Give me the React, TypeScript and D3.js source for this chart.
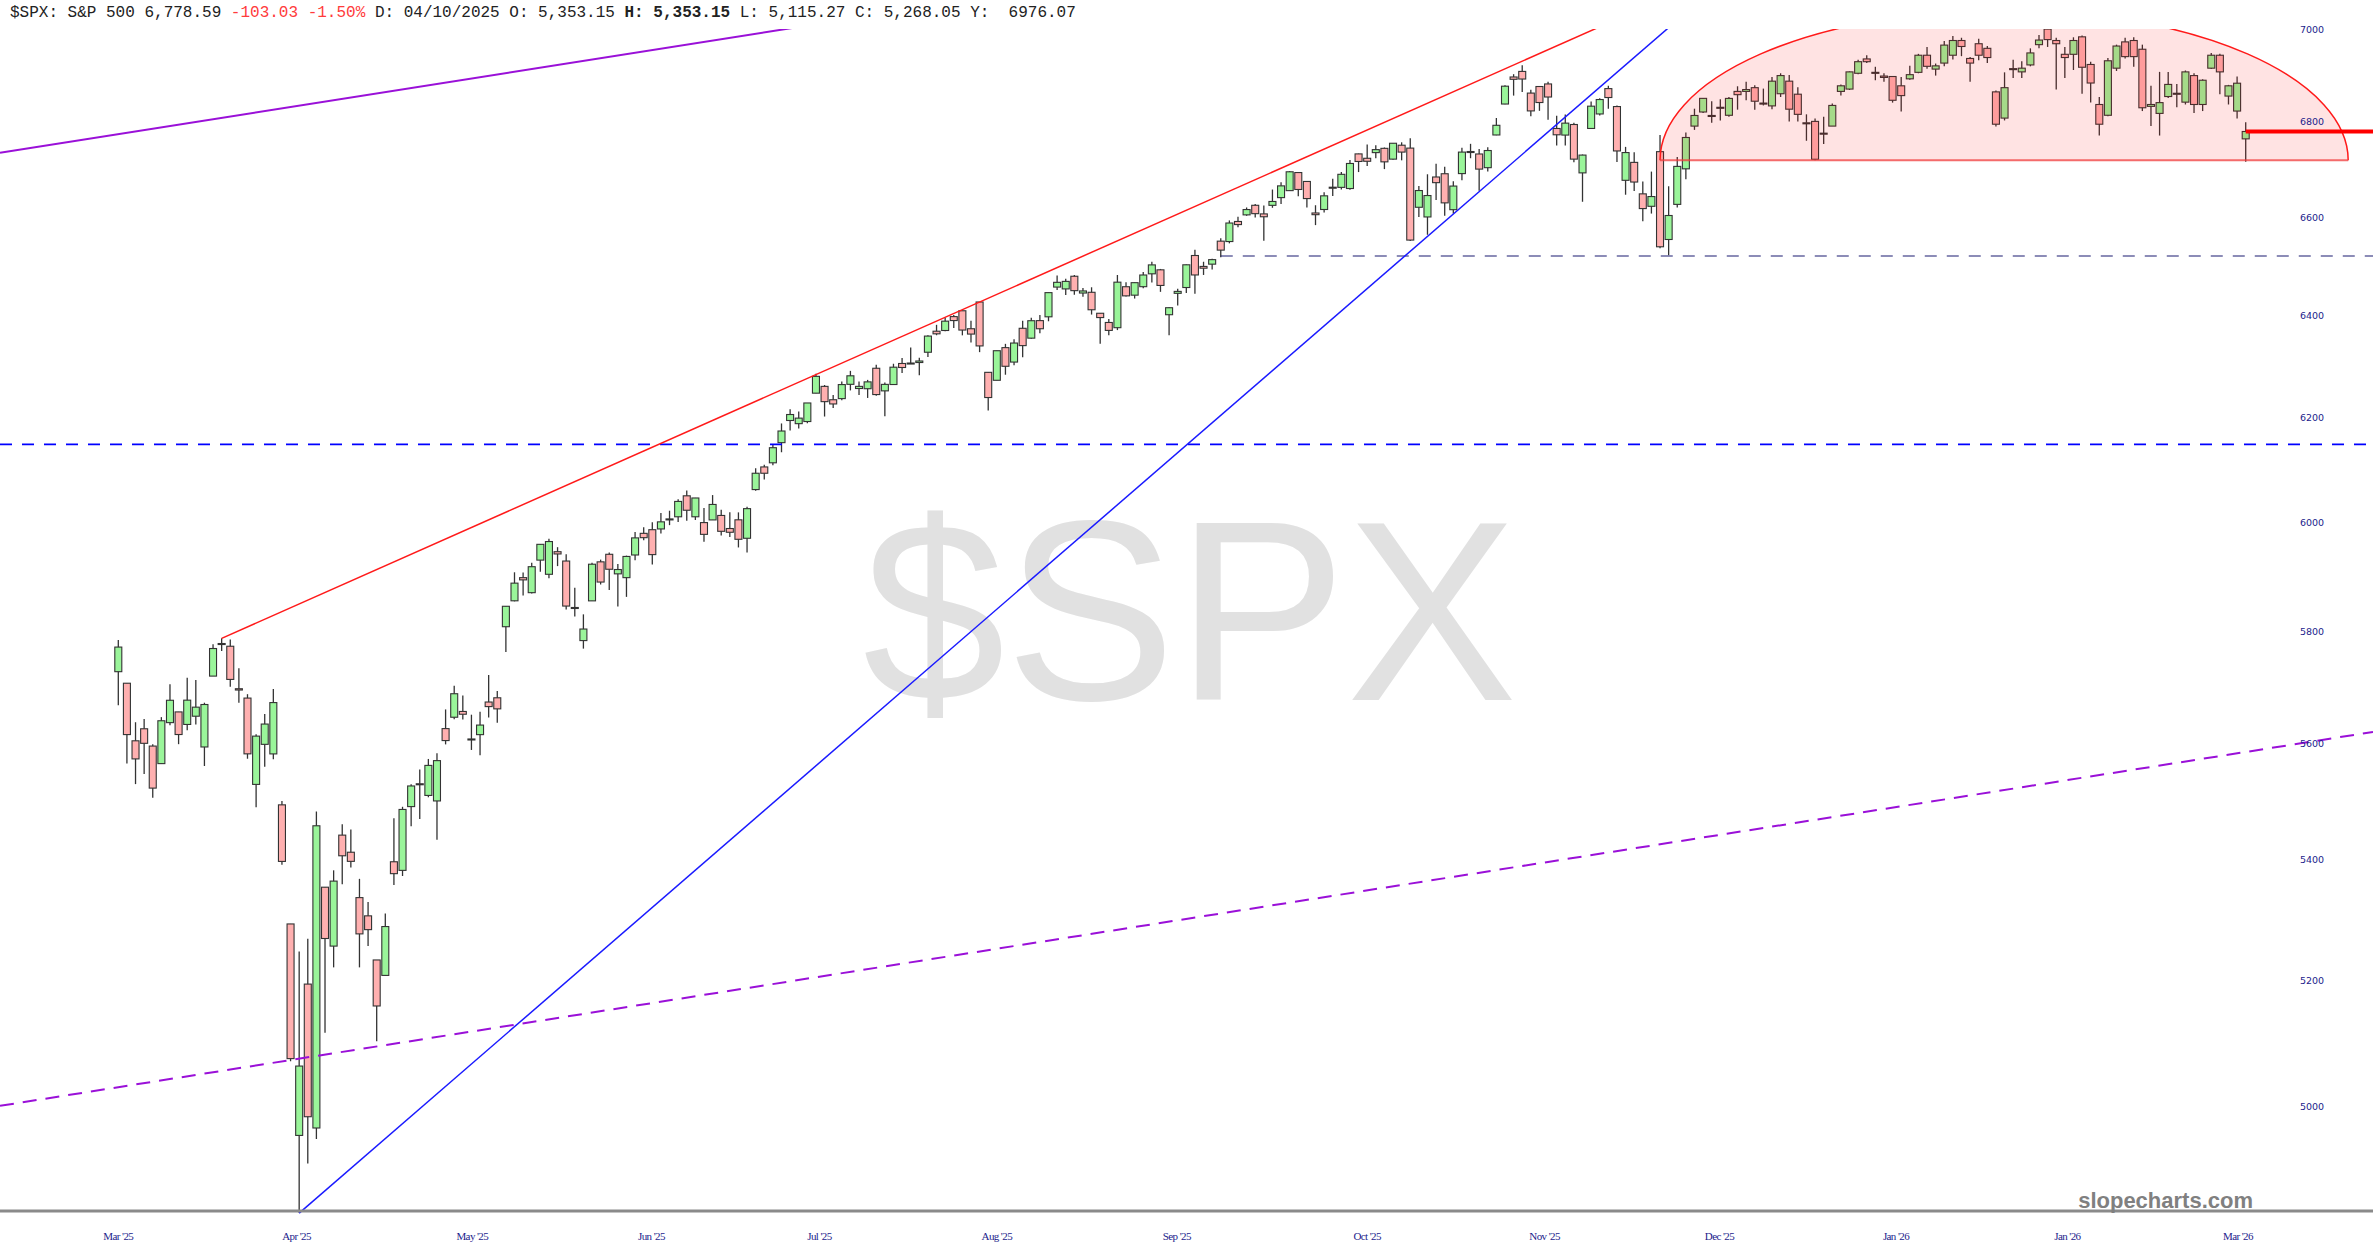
import React from 'react';
import * as d3 from 'd3';

const W = 2373;
const H = 1260;

// Trading days (index 0 = 2025-03-07)
const monthDays: [string, string][] = [
  ['2025-03', '07 10 11 12 13 14 17 18 19 20 21 24 25 26 27 28 31'],
  ['2025-04', '01 02 03 04 07 08 09 10 11 14 15 16 17 21 22 23 24 25 28 29 30'],
  ['2025-05', '01 02 05 06 07 08 09 12 13 14 15 16 19 20 21 22 23 27 28 29 30'],
  ['2025-06', '02 03 04 05 06 09 10 11 12 13 16 17 18 20 23 24 25 26 27 30'],
  ['2025-07', '01 02 03 07 08 09 10 11 14 15 16 17 18 21 22 23 24 25 28 29 30 31'],
  ['2025-08', '01 04 05 06 07 08 11 12 13 14 15 18 19 20 21 22 25 26 27 28 29'],
  ['2025-09', '02 03 04 05 08 09 10 11 12 15 16 17 18 19 22 23 24 25 26 29 30'],
  ['2025-10', '01 02 03 06 07 08 09 10 13 14 15 16 17 20 21 22 23 24 27 28 29 30 31'],
  ['2025-11', '03 04 05 06 07 10 11 12 13 14 17 18 19 20 21 24 25 26 28'],
  ['2025-12', '01 02 03 04 05 08 09 10 11 12 15 16 17 18 19 22 23 24 26 29 30 31'],
  ['2026-01', '02 05 06 07 08 09 12 13 14 15 16 20 21 22 23 26 27 28 29 30'],
  ['2026-02', '02 03 04 05 06 09 10 11 12 13 17 18 19 20 23 24 25 26 27'],
  ['2026-03', '02 03'],
];
const dates: string[] = monthDays.flatMap(([m, d]) => d.split(' ').map((dd) => `${m}-${dd}`));

const open = [
  5726.0, 5705.4, 5603.7, 5624.8, 5594.5, 5563.9, 5635.6, 5654.5, 5632.4, 5646.9, 5592.9, 5718.1, 5775.9, 5771.7, 5695.6, 5679.0, 5527.9,
  5597.5, 5580.8, 5492.7, 5292.1, 4953.8, 5193.6, 4965.3, 5353.2, 5255.6, 5441.0, 5412.0, 5335.8, 5305.5, 5232.9, 5207.7, 5395.9, 5381.4, 5489.7, 5529.0, 5508.9, 5499.4,
  5625.1, 5645.1, 5655.3, 5605.9, 5614.5, 5672.0, 5679.5, 5807.0, 5854.2, 5896.7, 5869.1, 5929.1, 5902.9, 5944.7, 5927.4, 5841.3, 5781.9, 5854.1, 5925.9, 5939.9, 5903.7,
  5896.7, 5938.6, 5978.9, 5985.7, 5987.1, 6004.6, 6009.9, 6049.4, 6009.9, 5999.0, 6004.0, 6012.4, 5987.9, 6004.2, 5969.7, 6061.2, 6104.2, 6112.1, 6150.7, 6193.4,
  6187.3, 6191.4, 6246.5, 6259.8, 6233.7, 6235.9, 6263.8, 6255.6, 6255.2, 6295.3, 6251.0, 6263.4, 6304.7, 6304.7, 6306.6, 6326.9, 6368.6, 6370.0, 6397.7, 6409.4, 6373.5, 6427.0,
  6287.3, 6271.7, 6336.0, 6307.5, 6374.4, 6354.8, 6389.7, 6397.3, 6457.0, 6453.3, 6478.9, 6445.0, 6446.5, 6404.4, 6386.0, 6375.6, 6457.7, 6440.7, 6457.8, 6483.8, 6491.9,
  6401.5, 6444.4, 6456.1, 6521.0, 6498.8, 6503.4, 6550.3, 6549.5, 6590.7, 6604.3, 6624.1, 6606.3, 6624.0, 6640.0, 6654.5, 6692.2, 6673.6, 6608.2, 6615.4, 6661.6, 6661.3,
  6658.9, 6731.3, 6722.1, 6734.0, 6743.0, 6720.3, 6749.6, 6743.5, 6620.0, 6600.0, 6682.9, 6689.7, 6615.0, 6690.0, 6736.3, 6731.1, 6702.4, 6771.2, 6837.0, 6895.0, 6907.0, 6860.4, 6874.5,
  6880.0, 6785.0, 6771.0, 6793.4, 6691.5, 6785.0, 6815.8, 6870.0, 6831.6, 6676.0, 6713.5, 6647.8, 6622.0, 6736.0, 6553.7, 6626.0, 6700.0, 6790.0, 6820.0,
  6812, 6830, 6813, 6864, 6864, 6872, 6839, 6833, 6859, 6886, 6858, 6797, 6800, 6775, 6790, 6864, 6869, 6903, 6934, 6905, 6897, 6896,
  6876, 6891, 6905, 6942, 6912, 6925, 6942, 6974, 6935, 6967, 6957, 6863, 6807, 6913, 6906, 6921, 6965, 6999, 6974, 6944,
  6944, 6982, 6922, 6836, 6813, 6914, 6971, 6974, 6955, 6832, 6817, 6853, 6860, 6841, 6898, 6836, 6914, 6942, 6854,
  6822, 6763,
];
const high = [
  5783.0, 5705.4, 5636.3, 5642.2, 5597.8, 5645.3, 5703.5, 5654.5, 5715.3, 5711.2, 5670.8, 5775.1, 5786.0, 5784.0, 5732.2, 5685.9, 5615.0,
  5650.6, 5695.3, 5499.5, 5292.1, 5246.6, 5267.5, 5481.3, 5353.2, 5381.5, 5459.5, 5450.4, 5367.2, 5328.3, 5232.9, 5309.6, 5469.7, 5489.4, 5528.1, 5553.7, 5572.0, 5581.8,
  5658.9, 5700.7, 5683.4, 5649.6, 5654.8, 5720.1, 5691.7, 5844.2, 5906.6, 5906.2, 5924.0, 5958.6, 5968.6, 5953.1, 5939.8, 5878.1, 5829.5, 5924.3, 5930.0, 5943.1, 5922.1,
  5937.4, 5981.4, 5990.5, 5999.7, 6016.9, 6021.3, 6043.0, 6059.4, 6045.4, 6026.2, 6050.8, 6023.3, 6018.2, 6018.2, 6028.8, 6101.8, 6108.5, 6146.5, 6187.7, 6215.1,
  6210.8, 6227.6, 6284.6, 6262.5, 6242.7, 6269.2, 6290.2, 6269.5, 6272.5, 6302.0, 6267.4, 6304.2, 6315.6, 6336.1, 6316.1, 6360.6, 6381.3, 6395.8, 6401.1, 6409.6, 6389.6, 6427.0,
  6288.0, 6330.0, 6343.5, 6352.8, 6389.6, 6395.2, 6401.1, 6446.1, 6480.3, 6473.8, 6481.3, 6455.3, 6456.6, 6404.4, 6393.0, 6481.4, 6466.9, 6466.0, 6487.3, 6508.2, 6493.7,
  6416.5, 6453.4, 6502.5, 6532.7, 6508.3, 6514.3, 6556.0, 6592.9, 6600.2, 6619.6, 6627.0, 6623.6, 6656.8, 6671.8, 6695.5, 6692.7, 6673.6, 6624.2, 6650.9, 6679.2, 6693.1,
  6718.6, 6731.9, 6750.9, 6749.5, 6744.8, 6753.7, 6755.7, 6764.2, 6664.3, 6688.6, 6710.4, 6704.5, 6674.2, 6744.3, 6752.5, 6741.6, 6745.1, 6807.2, 6877.1, 6901.0, 6920.3, 6867.5, 6875.1,
  6885.0, 6812.0, 6814.8, 6797.0, 6730.0, 6842.3, 6849.6, 6876.0, 6833.7, 6746.1, 6734.6, 6673.5, 6694.2, 6771.0, 6663.6, 6724.7, 6776.7, 6827.0, 6850.0,
  6843, 6847, 6852, 6875, 6885, 6877, 6870, 6895, 6903, 6899, 6873, 6815, 6806, 6810, 6838, 6879, 6907, 6932, 6942, 6917, 6903, 6897,
  6895, 6919, 6945, 6960, 6924, 6973, 6984, 6980, 6938, 6978, 6962, 6866, 6905, 6932, 6929, 6957, 6986, 7002, 6980, 6960,
  6981, 6985, 6928, 6852, 6936, 6965, 6980, 6981, 6965, 6876, 6906, 6906, 6880, 6909, 6903, 6890, 6947, 6945, 6878,
  6896, 6798,
];
const low = [
  5666.3, 5564.0, 5528.4, 5546.1, 5504.7, 5563.9, 5631.1, 5597.8, 5622.2, 5632.3, 5559.8, 5718.1, 5763.0, 5699.3, 5670.9, 5572.4, 5488.7,
  5558.5, 5571.5, 5390.8, 5069.9, 4835.0, 4910.4, 4948.4, 5115.3, 5220.8, 5358.0, 5386.4, 5220.8, 5255.6, 5101.6, 5207.7, 5356.7, 5372.0, 5455.9, 5468.6, 5505.7, 5433.2,
  5597.4, 5641.6, 5641.2, 5587.7, 5578.6, 5644.6, 5635.6, 5761.4, 5853.2, 5863.7, 5867.4, 5907.4, 5895.7, 5918.0, 5838.1, 5825.8, 5767.4, 5854.1, 5884.1, 5874.0, 5843.7,
  5861.4, 5929.0, 5966.1, 5921.2, 5978.6, 5994.2, 6000.3, 6002.3, 6003.9, 5963.0, 6004.0, 5974.8, 5971.9, 5952.6, 5943.2, 6059.2, 6080.1, 6107.6, 6132.3, 6174.0,
  6178.0, 6188.3, 6246.5, 6201.1, 6217.4, 6232.8, 6251.9, 6242.9, 6237.2, 6241.7, 6201.6, 6263.4, 6285.9, 6303.8, 6281.7, 6317.5, 6360.6, 6368.5, 6375.1, 6360.4, 6346.1, 6327.1,
  6212.7, 6271.7, 6282.6, 6301.0, 6317.1, 6353.8, 6364.4, 6388.4, 6451.2, 6441.1, 6441.6, 6437.6, 6401.8, 6343.9, 6360.6, 6370.8, 6438.1, 6433.9, 6454.8, 6466.0, 6447.4,
  6360.6, 6420.0, 6445.2, 6443.7, 6481.5, 6492.8, 6517.4, 6545.8, 6579.0, 6602.4, 6598.8, 6551.2, 6618.9, 6626.9, 6654.3, 6642.6, 6619.7, 6583.2, 6609.3, 6643.4, 6656.7,
  6656.2, 6693.2, 6705.7, 6721.9, 6699.4, 6719.0, 6717.8, 6550.8, 6600.1, 6563.4, 6634.9, 6602.3, 6607.1, 6676.3, 6722.2, 6654.5, 6694.6, 6770.7, 6836.3, 6855.0, 6862.6, 6810.9, 6822.5,
  6803.4, 6749.0, 6749.2, 6713.9, 6631.4, 6785.0, 6812.3, 6826.7, 6714.5, 6646.0, 6653.7, 6591.4, 6607.0, 6535.7, 6521.6, 6619.7, 6678.1, 6782.0, 6818.0,
  6797, 6802, 6810, 6825, 6845, 6825, 6834, 6826, 6852, 6800, 6800, 6759, 6718, 6752, 6790, 6855, 6867, 6901, 6925, 6888, 6885, 6840,
  6821, 6889, 6903, 6913, 6898, 6918, 6933, 6940, 6885, 6931, 6925, 6789, 6802, 6893, 6893, 6918, 6957, 6960, 6868, 6893,
  6910, 6859, 6840, 6770, 6811, 6908, 6935, 6917, 6822, 6790, 6770, 6850, 6830, 6836, 6818, 6822, 6912, 6858, 6836,
  6806, 6715,
];
const close = [
  5770.2, 5614.6, 5572.1, 5599.3, 5521.5, 5638.9, 5675.1, 5614.7, 5675.3, 5662.9, 5667.6, 5767.6, 5776.6, 5712.2, 5693.3, 5580.9, 5611.9,
  5633.1, 5671.0, 5396.5, 5074.1, 5062.3, 4982.8, 5456.9, 5268.1, 5363.4, 5406.0, 5396.6, 5275.7, 5282.7, 5158.2, 5287.8, 5375.9, 5484.8, 5525.2, 5528.8, 5560.8, 5569.1,
  5604.1, 5686.7, 5650.4, 5606.9, 5631.3, 5663.9, 5659.9, 5844.2, 5886.6, 5892.6, 5916.9, 5958.4, 5963.6, 5940.5, 5844.6, 5842.0, 5802.8, 5921.5, 5888.6, 5912.2, 5911.7,
  5935.9, 5970.4, 5970.8, 5939.3, 6000.4, 6005.9, 6038.8, 6022.2, 6045.3, 5977.0, 6033.1, 5982.7, 5980.9, 5967.8, 6025.2, 6092.2, 6092.2, 6141.0, 6173.1, 6205.0,
  6198.0, 6227.4, 6279.4, 6230.0, 6225.5, 6263.3, 6280.5, 6259.8, 6268.6, 6243.8, 6263.7, 6297.4, 6296.8, 6305.6, 6309.6, 6358.9, 6363.4, 6388.6, 6389.8, 6370.9, 6362.9, 6339.4,
  6238.0, 6329.9, 6299.2, 6345.1, 6340.0, 6389.5, 6373.5, 6445.8, 6466.6, 6468.5, 6449.8, 6449.2, 6411.4, 6395.8, 6370.2, 6466.9, 6439.3, 6465.9, 6481.4, 6501.9, 6460.3,
  6415.5, 6448.3, 6502.1, 6481.5, 6495.2, 6512.6, 6532.0, 6587.5, 6584.3, 6615.3, 6606.8, 6600.4, 6632.0, 6664.4, 6693.8, 6656.9, 6638.0, 6604.7, 6643.7, 6661.2, 6688.5,
  6711.2, 6715.4, 6715.8, 6740.3, 6714.6, 6753.7, 6735.1, 6552.5, 6654.7, 6644.3, 6671.1, 6629.1, 6664.0, 6735.1, 6735.4, 6699.4, 6738.4, 6791.7, 6875.2, 6890.0, 6890.6, 6822.3, 6840.2,
  6852.0, 6771.6, 6796.3, 6720.3, 6728.8, 6832.4, 6846.6, 6850.9, 6737.5, 6734.1, 6672.4, 6617.3, 6642.2, 6538.8, 6603.0, 6705.1, 6765.9, 6812.6, 6849.1,
  6812.6, 6829, 6849, 6857, 6868, 6843, 6838, 6886, 6898, 6826, 6815, 6795, 6720, 6774, 6834, 6876, 6906, 6928, 6928, 6903, 6894, 6845,
  6855, 6900, 6942, 6918, 6919, 6964, 6974, 6961, 6925, 6942, 6937, 6794, 6872, 6911, 6914, 6947, 6975, 6976, 6967, 6937,
  6974, 6916, 6882, 6794, 6930, 6962, 6939, 6939, 6829, 6836, 6840, 6879, 6858, 6906, 6836, 6888, 6942, 6906, 6876,
  6881.6, 6778.6,
];

const priceTicks = [5000, 5200, 5400, 5600, 5800, 6000, 6200, 6400, 6600, 6800, 7000];
const monthLabels = ["Mar '25", "Apr '25", "May '25", "Jun '25", "Jul '25", "Aug '25", "Sep '25", "Oct '25", "Nov '25", "Dec '25", "Jan '26", "Jan '26", "Mar '26"];
const monthLabelIndex = [0, 20.7, 41.1, 61.9, 81.4, 102, 122.9, 145, 165.6, 185.9, 206.4, 226.3, 246.1];

// Drawn studies: anchors as [candle index, price]
const channelUpper: [number, number][] = [[0, 6773], [200, 7372]];
const channelLower: [number, number][] = [[0, 5029], [200, 5474]];
const resistanceLine: [number, number][] = [[12, 5786], [100, 6427]];
const supportLine: [number, number][] = [[21, 4835], [152, 6560]];
const formerHigh = 6147.43;
const septemberLow = { start: 128, price: 6520 };
const topDome = { start: 179, end: 258.9, base: 6718, top: 7041 };
const lastClose = 6778.59;

export default function App() {
  const n = close.length;
  const x = d3.scaleLinear().domain([0, n - 1]).range([118.3, 118.3 + 8.613 * (n - 1)]);
  const y = d3.scaleLog().domain([5000, 7000]).range([1105.7, 28.6]);
  const plotTop = 29;
  const axisY = 1211;

  const extend = (pts: [number, number][], x0: number, x1: number) => {
    const ax = x(pts[0][0]), ay = y(pts[0][1]);
    const bx = x(pts[1][0]), by = y(pts[1][1]);
    const k = (by - ay) / (bx - ax);
    return { x1: x0, y1: ay + k * (x0 - ax), x2: x1, y2: ay + k * (x1 - ax) };
  };

  const upper = extend(channelUpper, 0, W);
  const lower = extend(channelLower, 0, W);
  const res = extend(resistanceLine, x(resistanceLine[0][0]), W);
  const sup = extend(supportLine, x(supportLine[0][0]), W);

  const dl = x(topDome.start), dr = x(topDome.end);
  const dcy = y(topDome.base);
  const rx = (dr - dl) / 2;
  const ry = dcy - y(topDome.top);
  const domePath = `M${dl},${dcy} A${rx},${ry} 0 0 1 ${dr},${dcy} Z`;

  const bw = 7;
  const green = '#9af59a';
  const red = '#ffb0b0';
  const edge = '#333333';

  return (
    <div style={{ position: 'fixed', left: 0, top: 0, width: W, height: H, background: '#fff' }}>
      <svg width={W} height={H} style={{ display: 'block' }}>
        <defs>
          <clipPath id="plot">
            <rect x={0} y={plotTop} width={W} height={axisY - plotTop + 4} />
          </clipPath>
        </defs>
        <rect x={0} y={0} width={W} height={H} fill="#fff" />
        <text x={1190} y={700} textAnchor="middle" fontFamily="'Liberation Sans', Arial, sans-serif" fontSize={256} fill="#e1e1e1">$SPX</text>

        <g clipPath="url(#plot)">
          {close.map((c, i) => {
            const o = open[i];
            const up = c >= o;
            const cx = x(i);
            const yT = y(Math.max(o, c));
            const yB = y(Math.min(o, c));
            const h = Math.max(1, yB - yT);
            return (
              <g key={dates[i]}>
                <line x1={cx} x2={cx} y1={y(high[i])} y2={y(low[i])} stroke={edge} strokeWidth={1.3} />
                <rect x={cx - bw / 2} y={yT} width={bw} height={h} fill={up ? green : red} stroke={edge} strokeWidth={1.1} />
              </g>
            );
          })}

          <path d={domePath} fill="rgba(255,0,0,0.11)" stroke="none" />
          <path d={`M${dl},${dcy} A${rx},${ry} 0 0 1 ${dr},${dcy}`} fill="none" stroke="#ff1a1a" strokeWidth={1.5} />
          <line x1={dl} x2={dr} y1={dcy} y2={dcy} stroke="rgba(240,60,60,0.75)" strokeWidth={2} />

          <line x1={0} x2={W} y1={y(formerHigh)} y2={y(formerHigh)} stroke="#0000ff" strokeWidth={1.6} strokeDasharray="12 10" />
          <line x1={x(septemberLow.start)} x2={W} y1={y(septemberLow.price)} y2={y(septemberLow.price)} stroke="#1a1a70" strokeWidth={1.2} strokeDasharray="12 10" />

          <line {...upper} stroke="#9a10d8" strokeWidth={2} />
          <line {...lower} stroke="#9a10d8" strokeWidth={2} strokeDasharray="14 9" />
          <line {...res} stroke="#ff1a1a" strokeWidth={1.5} />
          <line {...sup} stroke="#1a1aff" strokeWidth={1.5} />

          <line x1={x(n - 1)} x2={W} y1={y(lastClose)} y2={y(lastClose)} stroke="#ff0000" strokeWidth={4} />
        </g>

        {priceTicks.map((t) => (
          <text key={t} x={2312} y={y(t) + 4} textAnchor="middle" fontFamily="'DejaVu Sans', Verdana, sans-serif" fontSize={9.5} fill="#1c1c8c">{t}</text>
        ))}

        <line x1={0} x2={W} y1={axisY} y2={axisY} stroke="#8a8a8a" strokeWidth={3} />
        {monthLabels.map((m, k) => (
          <text key={k} x={x(monthLabelIndex[k])} y={1240} textAnchor="middle" fontFamily="'Liberation Serif', 'Times New Roman', serif" fontSize={11} fill="#1c1c8c" letterSpacing={-0.6}>{m}</text>
        ))}

        <text x={2253} y={1208} textAnchor="end" fontFamily="'Liberation Sans', Arial, sans-serif" fontWeight="bold" fontSize={22} fill="#808080">slopecharts.com</text>

        <text x={10} y={17} fontFamily="'Liberation Mono', 'Courier New', monospace" fontSize={16} fill="#222" xmlSpace="preserve">
          <tspan>$SPX: S&amp;P 500 6,778.59 </tspan>
          <tspan fill="#ff3b3b">-103.03 -1.50% </tspan>
          <tspan>D: 04/10/2025 O: 5,353.15 </tspan>
          <tspan fontWeight="bold">H: 5,353.15 </tspan>
          <tspan>L: 5,115.27 C: 5,268.05 Y:  6976.07</tspan>
        </text>
      </svg>
    </div>
  );
}
